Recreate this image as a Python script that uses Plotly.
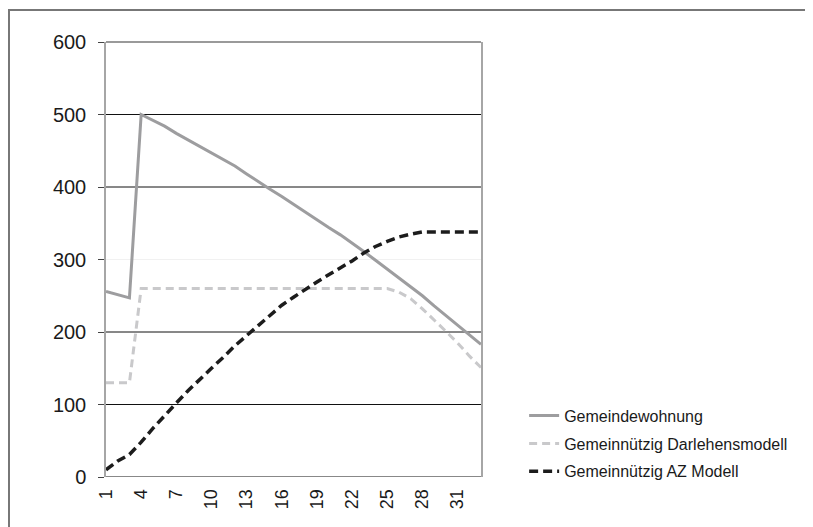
import plotly.graph_objects as go

years = list(range(1, 34))
tick_labels = [1, 4, 7, 10, 13, 16, 19, 22, 25, 28, 31]
y_ticks = [0, 100, 200, 300, 400, 500, 600]
grid_dark = [0, 100, 200, 400, 500]
grid_faint = [300]

gemeindewohnung = [256, 252, 247, 500, 492, 484, 474, 465, 456, 447, 438, 429, 418, 407, 397, 387,
                   376, 365, 354, 344, 334, 323, 311, 299, 287, 275, 263, 250, 236, 223, 210, 197, 183]
darlehensmodell = [130, 130, 130, 260, 260, 260, 260, 260, 260, 260, 260, 260, 260, 260, 260, 260,
                   260, 260, 260, 260, 260, 260, 260, 260, 260, 255, 246, 232, 217, 201, 185, 167, 151]
az_modell = [10, 22, 31, 48, 67, 85, 102, 119, 135, 150, 165, 181, 195, 209, 223, 237,
             248, 259, 269, 279, 288, 298, 309, 318, 325, 331, 335, 338, 338, 338, 338, 338, 338]

names = ["Gemeindewohnung", "Gemeinnützig Darlehensmodell", "Gemeinnützig AZ Modell"]

fig = go.Figure()
fig.add_trace(go.Scatter(x=years, y=gemeindewohnung, mode="lines", name=names[0],
                         line=dict(color="#9d9d9f", width=3), legendgroup="a"))
fig.add_trace(go.Scatter(x=years, y=darlehensmodell, mode="lines", name=names[1],
                         line=dict(color="#c9c9cb", width=3, dash="8px,5px"), legendgroup="b"))
fig.add_trace(go.Scatter(x=years, y=az_modell, mode="lines", name=names[2],
                         line=dict(color="#1c1c1c", width=3.5, dash="9px,5px"), legendgroup="c"))

shapes = []
for g in grid_dark:
    shapes.append(dict(type="line", xref="x domain", x0=0, x1=1, yref="y", y0=g, y1=g,
                       line=dict(color="#111111", width=1), layer="below"))
for g in grid_faint:
    shapes.append(dict(type="line", xref="x domain", x0=0, x1=1, yref="y", y0=g, y1=g,
                       line=dict(color="#f1f1f1", width=1), layer="below"))
# top border of plot area
shapes.append(dict(type="line", xref="x domain", x0=0, x1=1, yref="y domain", y0=1, y1=1,
                   line=dict(color="#9a9a9a", width=2), layer="above"))
# outer chart frame
shapes.append(dict(type="rect", xref="paper", yref="paper", x0=-0.2587, x1=1.95, y0=-0.2, y1=1.0736,
                   line=dict(color="#777777", width=2), fillcolor="rgba(0,0,0,0)", layer="below"))

fig.update_layout(
    width=813, height=527,
    margin=dict(l=98, r=340, t=34, b=58),
    paper_bgcolor="white", plot_bgcolor="white",
    font=dict(family="Liberation Sans, Arial, sans-serif", color="#1a1a1a"),
    shapes=shapes,
    showlegend=True,
    legend=dict(x=1.115, y=0.18, xanchor="left", yanchor="top",
                font=dict(size=16, color="#1a1a1a"), bgcolor="rgba(0,0,0,0)",
                traceorder="grouped", tracegroupgap=4, itemwidth=30),
    xaxis=dict(range=[1, 33], tickvals=tick_labels, ticktext=[str(t) for t in tick_labels],
               tickangle=-90, showgrid=False, zeroline=False, showline=False,
               ticks="outside", ticklen=4, tickcolor="rgba(0,0,0,0)",
               tickfont=dict(size=18, color="#1a1a1a")),
    yaxis=dict(range=[0, 600], tickvals=y_ticks, showgrid=False, zeroline=False,
               showline=True, linecolor="#a6a6a6", linewidth=1.5, mirror=True,
               ticks="outside", ticklen=6, tickcolor="#444444",
               tickfont=dict(size=20, color="#1a1a1a"), ticklabelstandoff=8),
)

fig.write_html("out.html")
